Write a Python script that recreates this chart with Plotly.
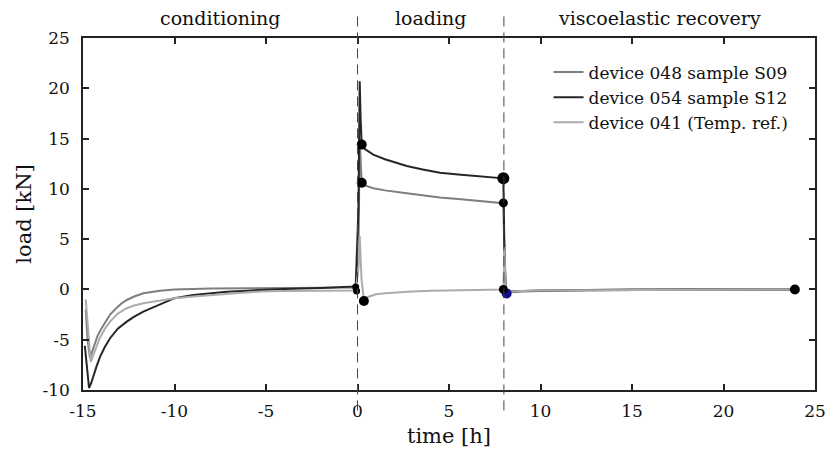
import plotly.graph_objects as go

# ---------------- data ----------------
t_048 = [-14.85, -14.75, -14.62, -14.5, -14.35, -14.2, -14.0, -13.75, -13.52, -13.2, -12.9, -12.61, -12.2, -11.7, -11.2, -10.79,
         -10.0, -9.0, -8.0, -6.0, -4.0, -2.0, -0.1, 0.05, 0.12, 0.23, 0.4, 0.86, 1.5, 2.69, 3.5, 4.5, 5.5, 6.33, 7.2, 7.97,
         8.02, 8.1, 8.2, 8.5, 9.0, 10.0, 12.0, 15.0, 18.0, 21.0, 23.9]
y_048 = [-2.0, -5.0, -6.8, -6.2, -5.3, -4.6, -3.9, -3.1, -2.5, -1.9, -1.4, -1.05, -0.7, -0.38, -0.2, -0.12,
         0.0, 0.05, 0.1, 0.12, 0.15, 0.17, 0.2, 3.0, 15.0, 10.6, 10.35, 10.06, 9.85, 9.56, 9.35, 9.13, 8.98, 8.83, 8.7, 8.57,
         4.0, -0.2, -0.3, -0.25, -0.2, -0.15, -0.1, -0.05, 0.0, 0.0, 0.0]

t_054 = [-14.9, -14.8, -14.67, -14.55, -14.4, -14.25, -14.07, -13.8, -13.52, -13.1, -12.61, -12.2, -11.7, -11.2, -10.79,
         -10.0, -8.97, -8.0, -7.15, -6.0, -5.33, -4.0, -2.0, -0.1, 0.05, 0.12, 0.17, 0.23, 0.4, 0.86, 1.5, 2.0, 2.69, 3.5,
         4.5, 5.5, 6.33, 7.2, 7.97, 8.02, 8.1, 8.2, 8.5, 9.0, 10.0, 12.0, 15.0, 18.0, 21.0, 23.9]
y_054 = [-5.6, -7.8, -9.8, -9.3, -8.4, -7.6, -6.7, -5.7, -4.85, -3.9, -3.2, -2.7, -2.2, -1.8, -1.54,
         -0.87, -0.55, -0.38, -0.22, -0.12, -0.05, 0.05, 0.15, 0.3, 8.0, 20.7, 17.0, 14.4, 13.95, 13.4, 12.95, 12.65, 12.27, 11.95,
         11.6, 11.42, 11.3, 11.17, 11.05, 5.0, -0.1, -0.2, -0.2, -0.15, -0.1, -0.05, 0.0, 0.0, 0.0, 0.0]

t_041 = [-14.85, -14.75, -14.58, -14.45, -14.3, -14.1, -13.8, -13.52, -13.1, -12.61, -12.2, -11.7, -11.2, -10.79, -10.0,
         -8.97, -8.0, -7.0, -5.33, -4.0, -2.0, -0.1, 0.05, 0.12, 0.22, 0.35, 0.5, 0.75, 1.0, 1.5, 2.0, 3.0, 4.0, 5.0, 6.0, 7.0,
         7.97, 8.03, 8.08, 8.15, 8.3, 8.6, 9.0, 10.0, 12.0, 15.0, 18.0, 21.0, 23.9]
y_041 = [-1.0, -3.5, -7.2, -6.6, -5.8, -4.9, -3.9, -3.2, -2.4, -1.87, -1.6, -1.37, -1.22, -1.1, -0.87,
         -0.7, -0.55, -0.42, -0.2, -0.15, -0.1, -0.1, 2.0, 5.3, 1.0, -1.1, -0.8, -0.6, -0.48, -0.38, -0.3, -0.2, -0.13, -0.08, -0.05, -0.02,
         0.0, 4.2, 0.5, -0.35, -0.25, -0.18, -0.15, -0.1, -0.07, -0.04, -0.02, 0.0, 0.0]

dot_t = [0.23, 0.23, 7.97, 7.97, -0.1, -0.05, 0.35, 7.97, 23.9]
dot_y = [14.4, 10.6, 11.05, 8.6, 0.25, -0.15, -1.15, 0.0, 0.0]
dot_size = [10, 10, 12, 9, 7, 7, 10, 9, 10]
blue_t = [8.15]
blue_y = [-0.4]

phase_bounds = [0, 8]
phase_labels = ["conditioning", "loading", "viscoelastic recovery"]
phase_centers = [-7.5, 4.0, 16.5]

x_ticks = [-15, -10, -5, 0, 5, 10, 15, 20, 25]
x_tick_labels = ["-15", "-10", "-5", "0", "5", "10", "15", "20", "25"]
y_ticks = [-10, -5, 0, 5, 10, 15, 20, 25]
y_tick_labels = ["-10", "-5", "0", "5", "10", "15", "20", "25"]

names = ["device 048 sample S09", "device 054 sample S12", "device 041 (Temp. ref.)"]
colors = ["#7e7e7e", "#262626", "#acacac"]

FONT = "DejaVu Serif"

fig = go.Figure()
for t, y, n, c in zip([t_048, t_054, t_041], [y_048, y_054, y_041], names, colors):
    fig.add_trace(go.Scatter(x=t, y=y, mode="lines", name=n, line=dict(color=c, width=2)))

fig.add_trace(go.Scatter(x=blue_t, y=blue_y, mode="markers", showlegend=False,
                         marker=dict(color="#10108a", size=10, line=dict(width=0))))
fig.add_trace(go.Scatter(x=dot_t, y=dot_y, mode="markers", showlegend=False,
                         marker=dict(color="#000000", size=dot_size, opacity=1, line=dict(width=0))))

for b in phase_bounds:
    fig.add_shape(type="line", xref="x", yref="paper", x0=b, x1=b, y0=-0.058, y1=1.065,
                  line=dict(color="#444444", width=1, dash="10px,6px"))

for lab, cx in zip(phase_labels, phase_centers):
    fig.add_annotation(x=cx, xref="x", y=1.0, yref="paper", yanchor="bottom", yshift=7,
                       text=lab, showarrow=False, font=dict(family=FONT, size=19, color="#111"))

axis_common = dict(showline=True, linecolor="#222", linewidth=1.6, mirror="ticks",
                   ticks="inside", ticklen=6, tickwidth=1.6, tickcolor="#222",
                   showgrid=False, zeroline=False, automargin=False,
                   tickfont=dict(family=FONT, size=17, color="#111"))

fig.update_layout(
    width=827, height=458,
    margin=dict(l=83, r=12, t=38, b=68),
    paper_bgcolor="white", plot_bgcolor="white",
    font=dict(family=FONT, color="#111"),
    xaxis=dict(range=[-15, 25], tickvals=x_ticks, ticktext=x_tick_labels, ticklabelstandoff=5,
               title=dict(text="time [h]", font=dict(family=FONT, size=21), standoff=8), **axis_common),
    yaxis=dict(range=[-10, 25], tickvals=y_ticks, ticktext=y_tick_labels, ticklabelstandoff=8,
               title=dict(text="load [kN]", font=dict(family=FONT, size=21), standoff=5), **axis_common),
    legend=dict(x=0.636, y=0.953, xanchor="left", yanchor="top", bgcolor="rgba(255,255,255,0)",
                font=dict(family=FONT, size=17), tracegroupgap=0, itemwidth=30),
    showlegend=True,
)

fig.write_html("out.html", config={"displayModeBar": False},
               post_script="document.body.style.margin='0';document.body.style.overflow='hidden';")
